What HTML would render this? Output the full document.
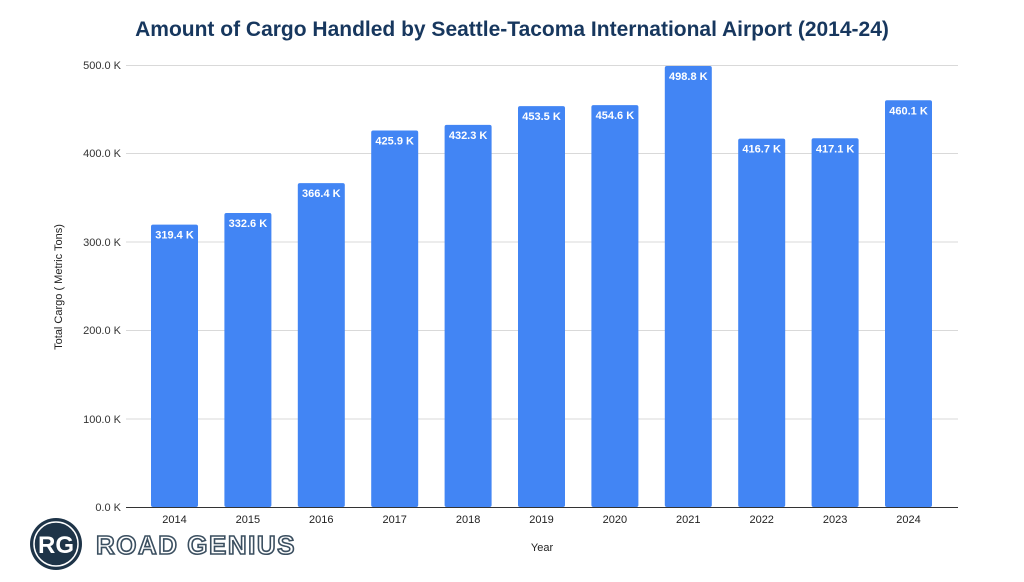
<!DOCTYPE html>
<html><head><meta charset="utf-8"><style>body{margin:0;background:#fff}svg{display:block}</style></head><body>
<svg width="1024" height="582" viewBox="0 0 1024 582" xmlns="http://www.w3.org/2000/svg" font-family="Liberation Sans, Arial, sans-serif">
<text x="512" y="36" text-anchor="middle" font-size="21" font-weight="bold" fill="#17375e">Amount of Cargo Handled by Seattle-Tacoma International Airport (2014-24)</text>
<g stroke="#d9d9d9" stroke-width="1">
<line x1="126" x2="958" y1="65.5" y2="65.5"/><line x1="126" x2="958" y1="153.5" y2="153.5"/><line x1="126" x2="958" y1="242" y2="242"/><line x1="126" x2="958" y1="330.5" y2="330.5"/><line x1="126" x2="958" y1="419" y2="419"/>
</g>
<g font-size="11" fill="#333" text-anchor="end">
<text x="121" y="69">500.0 K</text><text x="121" y="157">400.0 K</text><text x="121" y="246">300.0 K</text><text x="121" y="334">200.0 K</text><text x="121" y="423">100.0 K</text><text x="121" y="511">0.0 K</text>
</g>
<text transform="translate(62,287) rotate(-90)" text-anchor="middle" font-size="11" fill="#222">Total Cargo ( Metric Tons)</text>
<text x="542" y="551" text-anchor="middle" font-size="11" fill="#222">Year</text>
<g id="bars" fill="#4285f4"></g>
<line x1="126" x2="958" y1="507.5" y2="507.5" stroke="#333" stroke-width="1"/>
<g id="labels" font-size="11" font-weight="bold" fill="#fff" text-anchor="middle"></g>
<g id="years" font-size="11" fill="#222" text-anchor="middle"></g>
<circle cx="56" cy="544" r="26" fill="#1e3448"/>
<circle cx="56" cy="544" r="22" fill="none" stroke="#fff" stroke-width="1.5"/>
<text x="56" y="553" text-anchor="middle" font-size="24" font-weight="bold" fill="#fff">RG</text>
<text x="96" y="554" font-size="26" font-weight="bold" fill="#fff" stroke="#3b4f60" stroke-width="1.6" letter-spacing="1.5">ROAD GENIUS</text>
<script>
var v=[319.4,332.6,366.4,425.9,432.3,453.5,454.6,498.8,416.7,417.1,460.1];
var b=document.getElementById('bars'),l=document.getElementById('labels'),y=document.getElementById('years'),ns='http://www.w3.org/2000/svg';
v.forEach(function(d,i){var x=151+73.4*i,top=507-d*0.884;
var r=document.createElementNS(ns,'rect');r.setAttribute('x',x);r.setAttribute('y',top);r.setAttribute('width',47);r.setAttribute('height',507-top);r.setAttribute('rx',2);b.appendChild(r);
var t=document.createElementNS(ns,'text');t.setAttribute('x',x+23.5);t.setAttribute('y',top+14);t.textContent=d.toFixed(1)+' K';l.appendChild(t);
var u=document.createElementNS(ns,'text');u.setAttribute('x',x+23.5);u.setAttribute('y',523);u.textContent=2014+i;y.appendChild(u);});
</script>
</svg>
</body></html>
